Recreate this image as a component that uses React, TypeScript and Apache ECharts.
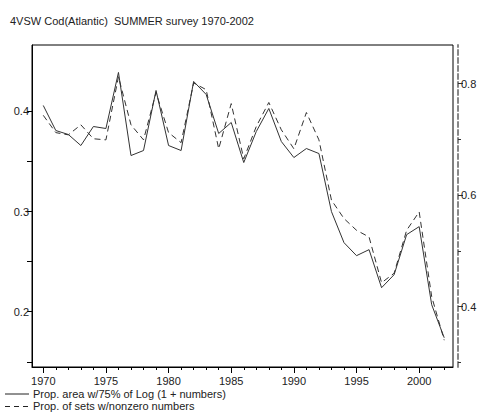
import React, { useEffect, useRef } from "react";
import * as echarts from "echarts";

const years = [1970,1971,1972,1973,1974,1975,1976,1977,1978,1979,1980,1981,1982,1983,1984,1985,1986,1987,1988,1989,1990,1991,1992,1993,1994,1995,1996,1997,1998,1999,2000,2001,2002];
const propArea = [0.406,0.381,0.377,0.366,0.385,0.383,0.439,0.356,0.361,0.421,0.366,0.361,0.430,0.417,0.378,0.389,0.349,0.380,0.403,0.370,0.354,0.363,0.358,0.300,0.269,0.256,0.262,0.224,0.237,0.277,0.285,0.207,0.174];
const propSets = [0.743,0.712,0.708,0.726,0.701,0.699,0.812,0.726,0.699,0.784,0.712,0.694,0.801,0.789,0.683,0.764,0.665,0.723,0.766,0.717,0.683,0.748,0.699,0.591,0.558,0.537,0.525,0.443,0.460,0.537,0.570,0.418,0.340];
const xMajorTicks = [1970,1975,1980,1985,1990,1995,2000];
const xMinorTicks = years;
const leftLabels = [0.2,0.3,0.4];
const leftTicks = [0.15,0.2,0.25,0.3,0.35,0.4];
const rightMajor = [0.4,0.6,0.8];
const rightMinor = [0.3,0.5,0.7];
const title = "4VSW Cod(Atlantic)  SUMMER survey 1970-2002";
const nameArea = "Prop. area w/75% of Log (1 + numbers)";
const nameSets = "Prop. of sets w/nonzero numbers";

const FONT = "'Liberation Sans', Arial, sans-serif";

export default function App() {
  const ref = useRef<HTMLDivElement>(null);
  useEffect(() => {
    if (!ref.current) return;
    const chart = echarts.init(ref.current, null, { renderer: "svg" });
    const xMin = 1969.1, xMax = 2002.7;
    const lMin = 0.1448, lMax = 0.4664;
    const rMin = 0.292, rMax = 0.869;
    chart.setOption({
      animation: false,
      backgroundColor: "#fff",
      textStyle: { fontFamily: FONT },
      title: {
        text: title,
        left: 5,
        top: 10,
        textStyle: { fontSize: 11, fontWeight: "normal", color: "#222", fontFamily: FONT },
      },
      grid: {
        left: 32, right: 30, top: 45, bottom: 46,
        show: true, borderColor: "#000", borderWidth: 1, backgroundColor: "transparent",
      },
      graphic: [
        { type: "line", shape: { x1: 5, y1: 394, x2: 29, y2: 394 }, style: { stroke: "#222", lineWidth: 1 } },
        { type: "text", x: 33, y: 394, style: { text: nameArea, fontSize: 11, fill: "#222", fontFamily: FONT, verticalAlign: "middle", align: "left" } },
        { type: "line", shape: { x1: 5, y1: 406.5, x2: 29, y2: 406.5 }, style: { stroke: "#222", lineWidth: 1, lineDash: [5, 4] } },
        { type: "text", x: 33, y: 406, style: { text: nameSets, fontSize: 11, fill: "#222", fontFamily: FONT, verticalAlign: "middle", align: "left" } },
      ],
      xAxis: [
        {
          type: "value", min: xMin, max: xMax, position: "bottom",
          axisLine: { show: true, lineStyle: { color: "#000", width: 1 } },
          axisTick: { show: true, length: 6, customValues: xMajorTicks, lineStyle: { color: "#000" } },
          axisLabel: { show: true, customValues: xMajorTicks, fontSize: 11, color: "#222", margin: 8, fontFamily: FONT, formatter: (v: number) => String(Math.round(v)) },
          splitLine: { show: false },
        },
        {
          type: "value", min: xMin, max: xMax, position: "bottom", offset: 0,
          axisLine: { show: false },
          axisTick: { show: true, length: 3, customValues: xMinorTicks, lineStyle: { color: "#000" } },
          axisLabel: { show: false },
          splitLine: { show: false },
        },
      ],
      yAxis: [
        {
          type: "value", min: lMin, max: lMax, position: "left",
          axisLine: { show: true, lineStyle: { color: "#000" } },
          axisTick: { show: true, length: 5, customValues: leftTicks, lineStyle: { color: "#000" } },
          axisLabel: { show: true, customValues: leftLabels, fontSize: 11, color: "#222", margin: 3, fontFamily: FONT, formatter: (v: number) => v.toFixed(1) },
          splitLine: { show: false },
        },
        {
          type: "value", min: rMin, max: rMax, position: "right", offset: 5,
          axisLine: { show: true, lineStyle: { color: "#888", width: 2, type: [5, 3] } },
          axisTick: { show: true, length: 5, customValues: rightMajor, lineStyle: { color: "#333" } },
          axisLabel: { show: true, customValues: rightMajor, fontSize: 11, color: "#222", margin: 3, fontFamily: FONT, formatter: (v: number) => v.toFixed(1) },
          splitLine: { show: false },
        },
        {
          type: "value", min: rMin, max: rMax, position: "right", offset: 5,
          axisLine: { show: false },
          axisTick: { show: true, length: 3, customValues: rightMinor, lineStyle: { color: "#333" } },
          axisLabel: { show: false },
          splitLine: { show: false },
        },
      ],
      series: [
        {
          name: nameArea, type: "line", xAxisIndex: 0, yAxisIndex: 0,
          data: years.map((y, i) => [y, propArea[i]]),
          symbol: "none",
          lineStyle: { color: "#333", width: 1, type: "solid" },
          itemStyle: { color: "#333" },
        },
        {
          name: nameSets, type: "line", xAxisIndex: 0, yAxisIndex: 1,
          data: years.map((y, i) => [y, propSets[i]]),
          symbol: "none",
          lineStyle: { color: "#333", width: 1, type: [6, 4] },
          itemStyle: { color: "#333" },
        },
      ],
    });
    return () => chart.dispose();
  }, []);
  return <div ref={ref} style={{ position: "fixed", left: 0, top: 0, width: 483, height: 413 }} />;
}
